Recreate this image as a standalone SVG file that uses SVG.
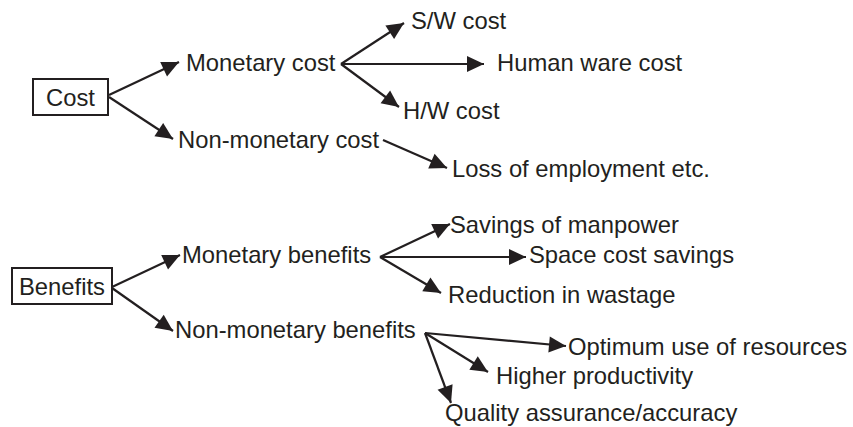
<svg xmlns="http://www.w3.org/2000/svg" width="853" height="427" viewBox="0 0 853 427">
<style>
text{font-family:"Liberation Sans",Arial,sans-serif;font-size:23.8px;fill:#231f20}
.box{fill:#fff;stroke:#231f20;stroke-width:2}
.c line{stroke:#231f20;stroke-width:2.2;marker-end:url(#ah)}
</style>
<defs>
<marker id="ah" markerUnits="userSpaceOnUse" markerWidth="20" markerHeight="18" refX="17" refY="8.5" orient="auto" overflow="visible">
<path d="M0,0.5 L17,8.5 L0,16.5 z" fill="#231f20"/>
</marker>
</defs>
<rect width="853" height="427" fill="#fff"/>
<g class="c" id="connectors">
<line x1="109" y1="95" x2="179" y2="62"/>
<line x1="109" y1="97" x2="173" y2="139"/>
<line x1="341" y1="64" x2="404" y2="23"/>
<line x1="341" y1="64" x2="484" y2="64"/>
<line x1="341" y1="64" x2="399" y2="107"/>
<line x1="383" y1="140" x2="447" y2="168"/>
<line x1="112" y1="287" x2="180" y2="255"/>
<line x1="112" y1="288" x2="173" y2="331"/>
<line x1="380" y1="257" x2="450" y2="224"/>
<line x1="380" y1="257" x2="526" y2="257"/>
<line x1="380" y1="257" x2="441" y2="293"/>
<line x1="425" y1="333" x2="566" y2="346"/>
<line x1="425" y1="333" x2="488" y2="372"/>
<line x1="425" y1="333" x2="451" y2="403"/>
</g>
<g id="cost"><rect class="box" x="33" y="79" width="75" height="36"/><text x="46" y="106">Cost</text></g>
<g id="monetary-cost"><text x="186" y="71">Monetary cost</text></g>
<g id="non-monetary-cost"><text x="178" y="148">Non-monetary cost</text></g>
<g id="sw-cost"><text x="411" y="29">S/W cost</text></g>
<g id="human-ware-cost"><text x="497" y="71">Human ware cost</text></g>
<g id="hw-cost"><text x="403" y="119">H/W cost</text></g>
<g id="loss-of-employment"><text x="452" y="177">Loss of employment etc.</text></g>
<g id="benefits"><rect class="box" x="12" y="268" width="100" height="36"/><text x="19" y="295">Benefits</text></g>
<g id="monetary-benefits"><text x="182" y="263">Monetary benefits</text></g>
<g id="non-monetary-benefits"><text x="175" y="338">Non-monetary benefits</text></g>
<g id="savings-of-manpower"><text x="450" y="233">Savings of manpower</text></g>
<g id="space-cost-savings"><text x="529" y="263">Space cost savings</text></g>
<g id="reduction-in-wastage"><text x="448" y="303">Reduction in wastage</text></g>
<g id="optimum-use"><text x="568" y="355">Optimum use of resources</text></g>
<g id="higher-productivity"><text x="496" y="384">Higher productivity</text></g>
<g id="quality-assurance"><text x="445" y="421">Quality assurance/accuracy</text></g>
</svg>
